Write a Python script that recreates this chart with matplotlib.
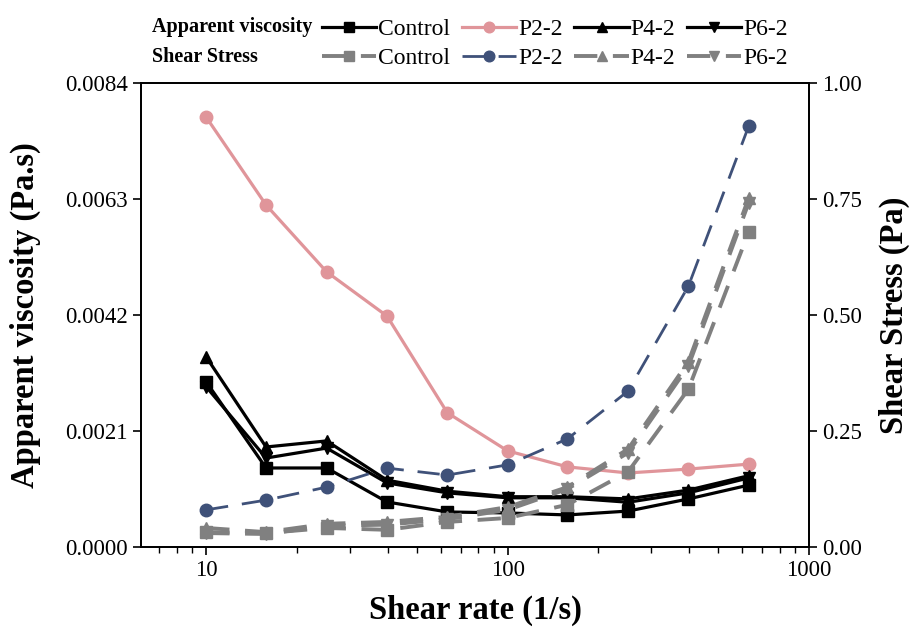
import matplotlib.pyplot as plt

plt.rcParams['font.family'] = ['Liberation Serif', 'DejaVu Serif']

# shear rate (1/s)
shear_rate = [10, 15.8, 25.1, 39.8, 63.1, 100, 158, 251, 398, 631]

# apparent viscosity (Pa.s)
visc_control = [0.00299, 0.00143, 0.00143, 0.000815, 0.000634, 0.000616, 0.00058, 0.00065, 0.00087, 0.00112]
visc_p2 = [0.00778, 0.00619, 0.00498, 0.00418, 0.00243, 0.00174, 0.00145, 0.00134, 0.00141, 0.00150]
visc_p4 = [0.00344, 0.00181, 0.00192, 0.00121, 0.00101, 0.00091, 0.00091, 0.00087, 0.00103, 0.00129]
visc_p6 = [0.00290, 0.00161, 0.00179, 0.00116, 0.00098, 0.00089, 0.00089, 0.00081, 0.00098, 0.00125]

# shear stress (Pa)
ss_control = [0.032, 0.030, 0.041, 0.037, 0.054, 0.0625, 0.091, 0.162, 0.340, 0.679]
ss_p2 = [0.080, 0.101, 0.129, 0.170, 0.155, 0.177, 0.233, 0.336, 0.562, 0.907]
ss_p4 = [0.041, 0.032, 0.050, 0.054, 0.065, 0.086, 0.129, 0.211, 0.399, 0.752]
ss_p6 = [0.030, 0.028, 0.046, 0.048, 0.060, 0.080, 0.125, 0.203, 0.390, 0.742]

labels = ['Control', 'P2-2', 'P4-2', 'P6-2']

fig = plt.figure(figsize=(9.1, 6.28), dpi=100)
ax = fig.add_axes([0.155, 0.129, 0.734, 0.739])
ax2 = ax.twinx()

pink = '#e0959a'
navy = '#3f5179'
gray = '#808080'

h1 = []
h1.append(ax.plot(shear_rate, visc_control, color='black', lw=2.3, marker='s', ms=8)[0])
h1.append(ax.plot(shear_rate, visc_p2, color=pink, lw=2.3, marker='o', ms=9)[0])
h1.append(ax.plot(shear_rate, visc_p4, color='black', lw=2.3, marker='^', ms=9)[0])
h1.append(ax.plot(shear_rate, visc_p6, color='black', lw=2.3, marker='v', ms=9)[0])

dash = (0, (6, 4))
h2 = []
h2.append(ax2.plot(shear_rate, ss_control, color=gray, lw=2.8, ls=dash, marker='s', ms=8)[0])
h2.append(ax2.plot(shear_rate, ss_p2, color=navy, lw=2.0, ls=(0, (8, 5)), marker='o', ms=9)[0])
h2.append(ax2.plot(shear_rate, ss_p4, color=gray, lw=2.8, ls=dash, marker='^', ms=9)[0])
h2.append(ax2.plot(shear_rate, ss_p6, color=gray, lw=2.8, ls=dash, marker='v', ms=9)[0])

ax.set_xscale('log')
ax.set_xlim(6.08, 1000)
ax.set_ylim(0, 0.0084)
ax.set_yticks([0, 0.0021, 0.0042, 0.0063, 0.0084])
ax.set_yticklabels(['0.0000', '0.0021', '0.0042', '0.0063', '0.0084'])
ax.set_xticks([10, 100, 1000])
ax.set_xticklabels(['10', '100', '1000'])
ax2.set_ylim(0, 1.0)
ax2.set_yticks([0, 0.25, 0.5, 0.75, 1.0])
ax2.set_yticklabels(['0.00', '0.25', '0.50', '0.75', '1.00'])

for a in (ax, ax2):
    a.tick_params(direction='out', labelsize=16.5, width=1.2, length=6)
    a.tick_params(which='minor', direction='out', width=1.0, length=4)
    for s in a.spines.values():
        s.set_linewidth(1.3)

ax.set_xlabel('Shear rate (1/s)', fontsize=23.5, fontweight='bold', labelpad=10)
ax.set_ylabel('Apparent viscosity (Pa.s)', fontsize=23.5, fontweight='bold', labelpad=17)
ax2.set_ylabel('Shear Stress (Pa)', fontsize=23.5, fontweight='bold', labelpad=12)

handles = []
leg_labels = []
for a, b, lab in zip(h1, h2, labels):
    handles += [a, b]
    leg_labels += [lab, lab]
leg = fig.legend(handles, leg_labels, ncol=4, loc='upper left', bbox_to_anchor=(0.333, 1.0),
                 frameon=False, fontsize=17, handlelength=2.3, handletextpad=0.08,
                 columnspacing=0.5, labelspacing=0.32, borderpad=0.3, markerscale=0.85)

fig.text(0.167, 0.957, 'Apparent viscosity', fontsize=14.5, fontweight='bold', va='center')
fig.text(0.167, 0.910, 'Shear Stress', fontsize=14.5, fontweight='bold', va='center')

plt.savefig('out.png', dpi=100)
